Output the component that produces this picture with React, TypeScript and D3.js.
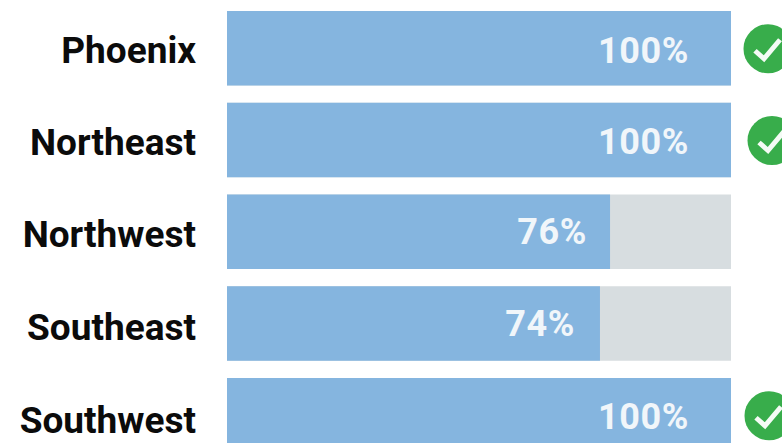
import * as d3 from 'd3';

const regions = ['Phoenix', 'Northeast', 'Northwest', 'Southeast', 'Southwest'];
const percents = [100, 100, 76, 74, 100];
const WIDTH = 782;
const HEIGHT = 443;

// the badge on the Northeast row sits a few px to the right of the others
const badgeNudge = [0, 4, 0, 0, 1];
// distance from the end of the blue bar to the end of its label
const labelInset = [42, 42, 23, 25, 42];
// the text isn't quite centred on the bars in the original
const nameNudge = [-1, -1, -1, 1, 2];
const valueNudge = [1.5, 0.5, -0.5, -0.5, 0.5];

const x = d3.scaleLinear().domain([0, 100]).range([227, 731]);
const y = d3.scaleBand<string>().domain(regions).range([11, 452.5]).paddingInner(0.188).paddingOuter(0);

const App = () => {
  const band = y.bandwidth();
  return (
    <svg
      width={WIDTH}
      height={HEIGHT}
      style={{ position: 'fixed', left: 0, top: 0, background: '#fff', display: 'block' }}
      fontFamily="Roboto, sans-serif"
    >
      {regions.map((name, i) => {
        const top = y(name) as number;
        const mid = top + band / 2;
        const val = percents[i];
        const cx = 768 + badgeNudge[i];
        const cy = mid + 0.5;
        return (
          <g key={name}>
            <text
              x={196}
              y={mid + 3 + nameNudge[i]}
              dy="0.35em"
              textAnchor="end"
              fontSize={37}
              fontWeight={700}
              fill="#0b0b0b"
            >
              {name}
            </text>
            <rect x={x(0)} y={top} width={x(100) - x(0)} height={band} fill="#d7dde0" />
            <rect x={x(0)} y={top} width={x(val) - x(0)} height={band} fill="#85b5df" />
            <text
              x={x(val) - labelInset[i]}
              y={mid + 0.5 + valueNudge[i]}
              dy="0.35em"
              textAnchor="end"
              fontSize={36}
              fontWeight={700}
              letterSpacing={0.6}
              fill="#f1f6fa"
            >
              {val}%
            </text>
            {val === 100 && (
              <g>
                <circle cx={cx} cy={cy} r={24.5} fill="#38ad4b" />
                <path
                  d={`M${cx - 13},${cy + 2} L${cx - 4},${cy + 10} L${cx + 12},${cy - 9}`}
                  fill="none"
                  stroke="#f4fbf5"
                  strokeWidth={5}
                />
              </g>
            )}
          </g>
        );
      })}
    </svg>
  );
};

export default App;
